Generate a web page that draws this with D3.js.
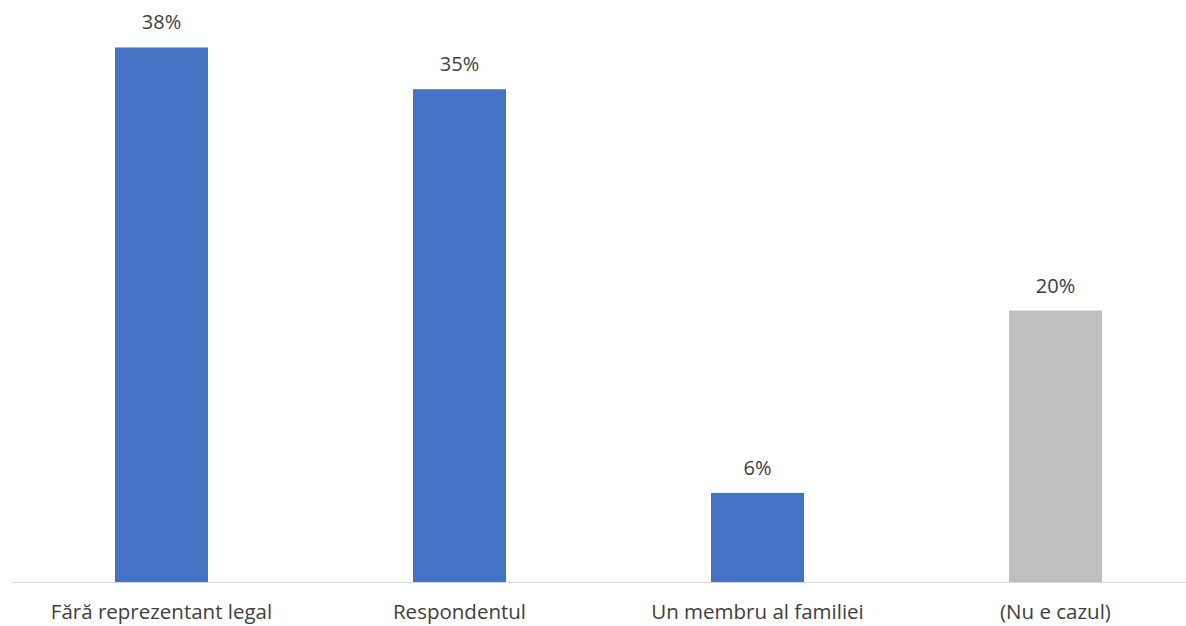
<!DOCTYPE html>
<html><head><meta charset="utf-8">
<script src="https://cdn.jsdelivr.net/npm/d3@7/dist/d3.min.js"></script>
<style>body{margin:0;background:#fff}svg{display:block}text{font-family:"Open Sans",sans-serif;fill:#404040}</style>
</head><body><svg id="c" width="1186" height="626"></svg>
<script>
const categories = ["Fără reprezentant legal", "Respondentul", "Un membru al familiei", "(Nu e cazul)"];
const values = [38.4, 35.4, 6.4, 19.5];
const barColors = ["#4472C4", "#4472C4", "#4472C4", "#BFBFBF"];

const svg = d3.select("#c");
const x = d3.scaleBand().domain(categories).range([12.5, 1204.5]).paddingInner(0.688).paddingOuter(0.344);
const y = d3.scaleLinear().domain([0, 40]).range([582, 25.2]);

svg.append("line").attr("x1", 12).attr("x2", 1186).attr("y1", y(0) + 0.5).attr("y2", y(0) + 0.5)
  .attr("stroke", "#D9D9D9").attr("stroke-width", 1);

svg.selectAll("rect.bar").data(values).join("rect").attr("class", "bar")
  .attr("x", (d, i) => x(categories[i])).attr("width", x.bandwidth())
  .attr("y", d => y(d)).attr("height", d => y(0) - y(d))
  .attr("fill", (d, i) => barColors[i]);

svg.selectAll("text.val").data(values).join("text").attr("class", "val")
  .attr("x", (d, i) => x(categories[i]) + x.bandwidth() / 2)
  .attr("y", d => y(d) - 18).attr("text-anchor", "middle").attr("font-size", 20)
  .text(d => Math.round(d) + "%");

svg.selectAll("text.cat").data(categories).join("text").attr("class", "cat")
  .attr("x", d => x(d) + x.bandwidth() / 2).attr("y", 619)
  .attr("text-anchor", "middle").attr("font-size", 20.5).text(d => d);
</script></body></html>
